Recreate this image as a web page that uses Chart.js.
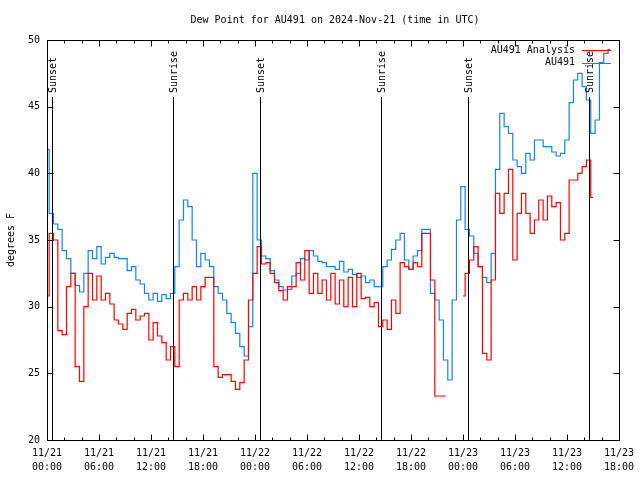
<!DOCTYPE html>
<html>
<head>
<meta charset="utf-8">
<script src="https://cdn.jsdelivr.net/npm/chart.js@4.4.1/dist/chart.umd.min.js"></script>
<style>
html,body{margin:0;padding:0;background:#fff;}
canvas{display:block;}
</style>
</head>
<body>
<canvas id="c" width="640" height="480"></canvas>
<script>
// ---- data (hours since 2024-11-21 00:00 UTC) ----
const hours = [0,0.5,1,1.5,2,2.5,3,3.5,4,4.5,5,5.5,6,6.5,7,7.5,8,8.5,9,9.5,10,10.5,11,11.5,12,12.5,13,13.5,14,14.5,15,15.5,16,16.5,17,17.5,18,18.5,19,19.5,20,20.5,21,21.5,22,22.5,23,23.5,24,24.5,25,25.5,26,26.5,27,27.5,28,28.5,29,29.5,30,30.5,31,31.5,32,32.5,33,33.5,34,34.5,35,35.5,36,36.5,37,37.5,38,38.5,39,39.5,40,40.5,41,41.5,42,42.5,43,43.5,44,44.5,45,45.5,46,46.5,47,47.5,48,48.5,49,49.5,50,50.5,51,51.5,52,52.5,53,53.5,54,54.5,55,55.5,56,56.5,57,57.5,58,58.5,59,59.5,60,60.5,61,61.5,62,62.5,63,63.5,64,64.5,65];

const au491 = [41.8,37,36.2,35.8,34.2,33.6,32.5,31.6,31.1,32.5,34.2,33.6,34.5,33.2,33.7,34.0,33.7,33.6,33.6,32.7,33.0,32.0,31.7,
31.0,30.5,31.0,30.4,30.9,30.6,31.0,33.0,36.5,38.0,37.5,35.0,33.0,34.0,33.5,33.0,31.5,31.0,30.5,29.5,28.8,28.0,27.0,26.3,28.5,40.0,35.0,33.8,33.6,32.7,32.0,31.5,31.25,31.3,32.3,32.5,33.6,33.5,34.2,33.8,33.4,33.3,33.0,33.0,32.8,33.4,32.6,32.8,32.4,32.2,32.3,31.8,32.0,31.5,31.5,33.0,33.5,34.3,35.0,35.5,
33.5,32.8,33.8,34.2,35.8,35.8,31.0,30.5,29.0,26.0,24.5,30.5,36.5,39.0,35.8,35.3,34.0,33.0,32.2,31.8,34.0,40.3,44.5,43.5,43.0,41.0,40.5,40.0,41.5,41.0,42.5,42.5,42.0,42.0,41.6,41.3,41.5,42.5,45.3,47.0,47.5,46.5,45.5,43.0,44.0,48.3,49.0,49.3];

const au491Analysis = [30.8,35.5,35.0,28.2,27.9,31.5,32.5,25.5,24.4,30.0,32.5,30.5,32.3,30.5,31.0,30.2,29.0,28.7,28.3,29.5,29.8,29.0,29.3,
29.5,27.5,28.8,27.8,27.3,26.0,27.0,25.5,30.5,31.0,30.5,31.5,30.5,31.5,32.2,32.2,25.5,24.7,24.9,24.9,24.4,23.8,24.3,26.0,30.5,32.5,34.5,33.2,33.3,32.5,31.8,31.2,30.5,31.5,31.5,33.3,32.0,34.2,31.0,32.5,31.0,32.0,30.5,32.5,30.2,32.0,30.0,32.2,30.0,32.5,30.6,30.7,30.0,30.3,28.5,29.0,28.3,30.5,29.5,33.3,
33.0,32.8,33.3,33.0,35.5,35.5,32.0,23.3,23.3,23.3,null,null,null,30.8,32.5,33.5,34.5,33.0,26.5,26.0,32.0,38.5,37.0,38.5,40.3,33.5,37.0,38.5,37.0,35.5,36.5,38.0,36.5,38.3,37.5,37.8,35.0,35.5,39.5,39.5,40.0,40.5,41.0,38.2];

const eventHours = [0.55, 14.52, 24.56, 38.5, 48.53, 62.58];
const eventNames = ['Sunset','Sunrise','Sunset','Sunrise','Sunset','Sunrise'];

const tickDates = ['11/21','11/21','11/21','11/21','11/22','11/22','11/22','11/22','11/23','11/23','11/23','11/23'];
const tickTimes = ['00:00','06:00','12:00','18:00','00:00','06:00','12:00','18:00','00:00','06:00','12:00','18:00'];

const titleText = 'Dew Point for AU491 on 2024-Nov-21 (time in UTC)';
const yTitle = 'degrees F';

// ---- style ----
const FONT_FAMILY = '"DejaVu Sans Mono", "Liberation Mono", monospace';
const FONT = '10px ' + FONT_FAMILY;
const RED = 'rgb(255,0,0)';
const BLUE = 'rgb(16,130,245)';

Chart.defaults.font.family = FONT_FAMILY;
Chart.defaults.font.size = 10;
Chart.defaults.color = '#000';

const decor = {
  id: 'decor',
  afterDatasetsDraw(chart) {
    const ctx = chart.ctx, a = chart.chartArea, x = chart.scales.x, y = chart.scales.y;
    ctx.save();
    ctx.strokeStyle = '#000';
    ctx.fillStyle = '#000';
    ctx.lineWidth = 1;
    ctx.font = FONT;
    // sunrise / sunset markers
    eventHours.forEach((h, k) => {
      const px = Math.round(x.getPixelForValue(h)) + 0.5;
      ctx.beginPath();
      ctx.moveTo(px, a.bottom);
      ctx.lineTo(px, 97);
      ctx.stroke();
      ctx.save();
      ctx.translate(px + 1, 93);
      ctx.rotate(-Math.PI / 2);
      ctx.textAlign = 'left';
      ctx.textBaseline = 'middle';
      ctx.fillText(eventNames[k], 0, 0);
      ctx.restore();
    });
    // border
    const L = Math.round(a.left) + 0.5, R = Math.round(a.right) + 0.5;
    const T = Math.round(a.top) + 0.5, B = Math.round(a.bottom) + 0.5;
    ctx.strokeRect(L, T, R - L, B - T);
    // x ticks (major every 6h, minor every 2h), mirrored on top
    ctx.beginPath();
    for (let h = x.min; h <= x.max + 1e-9; h += 2) {
      const px = Math.round(x.getPixelForValue(h)) + 0.5;
      const len = (Math.abs(h % 6) < 1e-9) ? 6 : 3;
      ctx.moveTo(px, B); ctx.lineTo(px, B - len);
      ctx.moveTo(px, T); ctx.lineTo(px, T + len);
    }
    // y ticks mirrored on right
    for (let v = y.min; v <= y.max + 1e-9; v += 5) {
      const py = Math.round(y.getPixelForValue(v)) + 0.5;
      ctx.moveTo(L, py); ctx.lineTo(L + 6, py);
      ctx.moveTo(R, py); ctx.lineTo(R - 6, py);
    }
    ctx.stroke();
    // legend (key)
    const ds = chart.data.datasets;
    ds.forEach((d, k) => {
      const ly = 50 + k * 12.5;
      ctx.textAlign = 'right';
      ctx.textBaseline = 'middle';
      ctx.fillStyle = '#000';
      ctx.fillText(d.label, 575, ly);
      ctx.strokeStyle = d.borderColor;
      ctx.beginPath();
      ctx.moveTo(582, Math.round(ly) + 0.5);
      ctx.lineTo(611, Math.round(ly) + 0.5);
      ctx.stroke();
    });
    // title
    ctx.fillStyle = '#000';
    ctx.textAlign = 'center';
    ctx.textBaseline = 'middle';
    ctx.fillText(titleText, 335, 20);
    // y axis title
    ctx.save();
    ctx.translate(11, 240);
    ctx.rotate(-Math.PI / 2);
    ctx.textAlign = 'center';
    ctx.textBaseline = 'middle';
    ctx.fillText(yTitle, 0, 0);
    ctx.restore();
    ctx.restore();
  }
};

new Chart(document.getElementById('c'), {
  type: 'line',
  data: {
    labels: hours,
    datasets: [
      { label: 'AU491 Analysis', data: au491Analysis, borderColor: RED, backgroundColor: RED,
        borderWidth: 1.2, pointRadius: 0, stepped: 'middle', spanGaps: false, fill: false },
      { label: 'AU491', data: au491, borderColor: BLUE, backgroundColor: BLUE,
        borderWidth: 1.2, pointRadius: 0, stepped: 'middle', spanGaps: false, fill: false }
    ]
  },
  options: {
    responsive: false,
    animation: false,
    devicePixelRatio: 1,
    layout: { padding: { top: 40, right: 16, left: 0, bottom: 0 } },
    plugins: { legend: { display: false }, title: { display: false }, tooltip: { enabled: false } },
    scales: {
      x: {
        type: 'linear', min: 0, max: 66,
        grid: { display: false, drawTicks: false },
        border: { display: false },
        afterFit(s) { s.height = 40; },
        ticks: {
          stepSize: 6, padding: 6, maxRotation: 0, autoSkip: false,
          font: { size: 10, lineHeight: 1.4 },
          callback(v) { const i = Math.round(v / 6); return [tickDates[i], tickTimes[i]]; }
        }
      },
      y: {
        min: 20, max: 50,
        grid: { display: false, drawTicks: false },
        border: { display: false },
        afterFit(s) { s.width = 47; },
        ticks: { stepSize: 5, padding: 7, font: { size: 10 } }
      }
    }
  },
  plugins: [decor]
});
</script>
</body>
</html>
